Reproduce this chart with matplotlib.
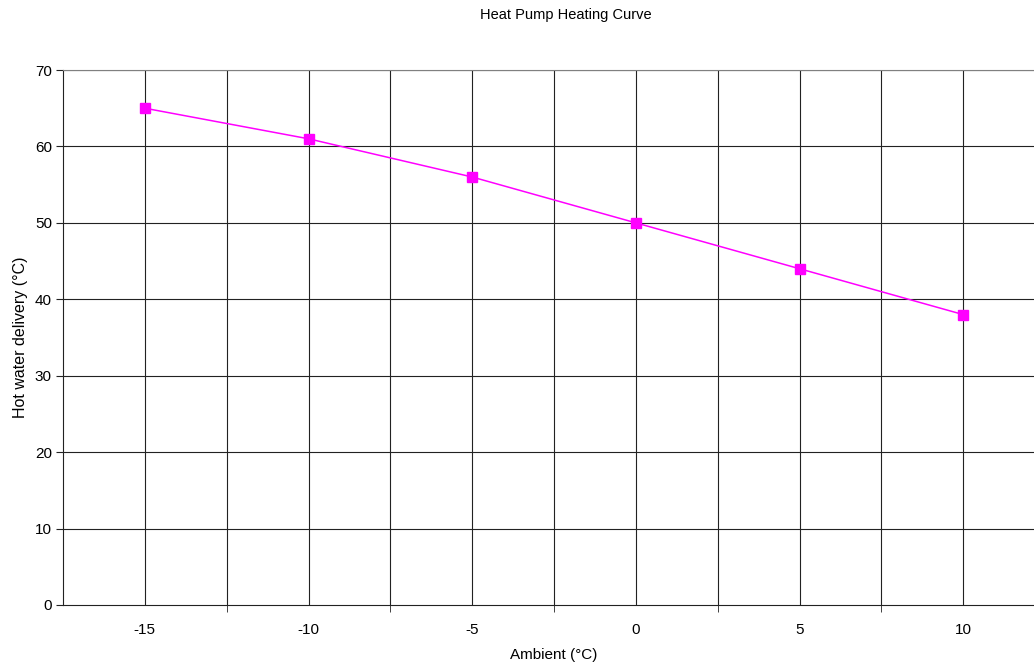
import numpy as np
import matplotlib.pyplot as plt

plt.rcParams['font.family'] = ['Liberation Sans', 'DejaVu Sans']

ambient = ['-15', '-10', '-5', '0', '5', '10']
delivery = [65, 61, 56, 50, 44, 38]
y_ticks = [0, 10, 20, 30, 40, 50, 60, 70]

fig = plt.figure(figsize=(10.34, 6.65), dpi=100)
# axes right edge runs slightly past the figure, as in the original export
ax = fig.add_axes([63 / 1034, 60 / 665, (1045 - 63) / 1034, (605 - 70) / 665])

x = np.arange(len(ambient))
ax.plot(x, delivery, color='#ff00ff', linewidth=1.1, marker='s', markersize=6.5,
        markeredgecolor='#ff00ff', zorder=3)

ax.set_xlim(-0.5, len(ambient) - 0.5)
ax.set_ylim(0, 70)
ax.set_yticks(y_ticks)

# gridlines at category centres and boundaries
for v in np.arange(-0.5, len(ambient), 0.5)[1:]:
    ax.axvline(v, color='#222222', linewidth=0.8, zorder=1)
for v in y_ticks[1:]:
    ax.axhline(v, color='#222222', linewidth=0.8, zorder=1)

ax.set_xticks(x)
ax.set_xticklabels(ambient)
ax.tick_params(axis='x', length=0, pad=13, labelsize=11)
ax.set_xticks(x[:-1] + 0.5, minor=True)
ax.tick_params(axis='x', which='minor', length=5, direction='out', color='#222222')
ax.tick_params(axis='y', length=5, direction='out', color='#222222', labelsize=11, pad=3)

ax.spines['right'].set_visible(False)
ax.spines['top'].set_color('#808080')
ax.spines['left'].set_color('#222222')
ax.spines['bottom'].set_color('#222222')

ax.set_xlabel('Ambient (°C)', fontsize=11, labelpad=8)
ax.set_ylabel('Hot water delivery (°C)', fontsize=11.5, labelpad=5)
fig.text(566 / 1034, 1 - 15 / 665, 'Heat Pump Heating Curve', ha='center', va='center', fontsize=10.5)

fig.savefig('out.png', dpi=100)
